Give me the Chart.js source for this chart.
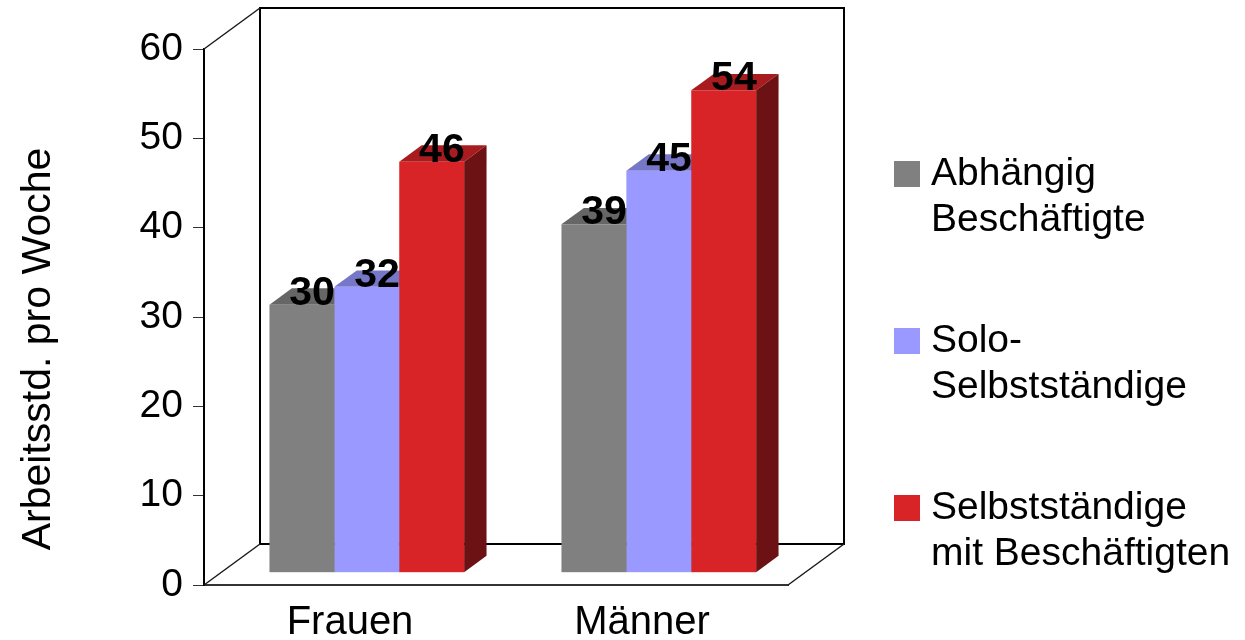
<!DOCTYPE html>
<html>
<head>
<meta charset="utf-8">
<script src="https://cdn.jsdelivr.net/npm/chart.js@4.4.1/dist/chart.umd.min.js"></script>
<style>
  html, body { margin: 0; padding: 0; background: #ffffff; }
  canvas { display: block; }
</style>
</head>
<body>
<canvas id="chart" width="1245" height="640"></canvas>
<script>
// Wochenarbeitszeit nach Erwerbsform und Geschlecht
const categories = ['Frauen', 'Männer'];
const seriesNames = [
  ['Abhängig', 'Beschäftigte'],
  ['Solo-', 'Selbstständige'],
  ['Selbstständige', 'mit Beschäftigten']
];
const abhaengigBeschaeftigte = [30, 39];
const soloSelbststaendige = [32, 45];
const selbststaendigeMitBeschaeftigten = [46, 54];
const yTickValues = [0, 10, 20, 30, 40, 50, 60];
const yAxisTitle = 'Arbeitsstd. pro Woche';

const FONT = '"Liberation Sans", Arial, Helvetica, sans-serif';

// shading of the three visible faces of each box
const shades = [
  { front: '#808080', top: '#666666', side: '#404040' },
  { front: '#9999FF', top: '#7777C8', side: '#4D4D80' },
  { front: '#D92427', top: '#A81C1F', side: '#6C1214' }
];

// depth vector of the 3-D frame (front plane -> back wall), in pixels
const DEPTH = { x: 56, y: -41 };
const FRONT_GAP = 0.3;   // share of the depth in front of the boxes
const BOX_DEPTH = 0.4;   // share of the depth taken by the boxes

function poly(ctx, pts, fill) {
  ctx.beginPath();
  ctx.moveTo(pts[0][0], pts[0][1]);
  for (let i = 1; i < pts.length; i++) ctx.lineTo(pts[i][0], pts[i][1]);
  ctx.closePath();
  ctx.fillStyle = fill;
  ctx.fill();
}

function line(ctx, x1, y1, x2, y2) {
  ctx.beginPath();
  ctx.moveTo(x1, y1);
  ctx.lineTo(x2, y2);
  ctx.stroke();
}

function barBoxes(chart) {
  const out = [];
  chart.data.datasets.forEach((ds, i) => {
    const meta = chart.getDatasetMeta(i);
    meta.data.forEach((bar, j) => {
      const p = bar.getProps(['x', 'y', 'base', 'width'], true);
      out.push({ ds: i, idx: j, value: ds.data[j], ...p });
    });
  });
  return out;
}

const frame3d = {
  id: 'frame3d',
  beforeDatasetsDraw(chart) {
    const { ctx, chartArea: a, scales: { y } } = chart;
    const y0 = y.getPixelForValue(y.min);
    const yTop = y.getPixelForValue(y.max);

    // back wall and edges of the box
    ctx.save();
    ctx.strokeStyle = '#000000';
    ctx.lineWidth = 2;
    ctx.strokeRect(a.left + DEPTH.x, yTop + DEPTH.y, a.right - a.left, y0 - yTop);
    ctx.lineWidth = 1.5;
    ctx.strokeStyle = '#1a1a1a';
    line(ctx, a.left, yTop, a.left + DEPTH.x, yTop + DEPTH.y);
    line(ctx, a.left, y0, a.left + DEPTH.x, y0 + DEPTH.y);
    line(ctx, a.right, y0, a.right + DEPTH.x, y0 + DEPTH.y);
    ctx.restore();

    // top and side faces of the boxes
    const fx = DEPTH.x * FRONT_GAP, fy = DEPTH.y * FRONT_GAP;
    const bx = DEPTH.x * BOX_DEPTH, by = DEPTH.y * BOX_DEPTH;
    ctx.save();
    barBoxes(chart).forEach(b => {
      const l = b.x - b.width / 2 + fx, r = b.x + b.width / 2 + fx;
      const t = b.y + fy, bt = b.base + fy;
      const s = shades[b.ds];
      poly(ctx, [[l, t], [r, t], [r + bx, t + by], [l + bx, t + by]], s.top);
      poly(ctx, [[r, t], [r + bx, t + by], [r + bx, bt + by], [r, bt]], s.side);
    });
    ctx.restore();

    // front faces are drawn by Chart.js, pushed into the depth of the box
    ctx.save();
    ctx.translate(fx, fy);
  },
  afterDatasetsDraw(chart) {
    const { ctx } = chart;
    ctx.restore();

    const fx = DEPTH.x * FRONT_GAP, fy = DEPTH.y * FRONT_GAP;
    const bx = DEPTH.x * BOX_DEPTH;
    ctx.save();
    ctx.fillStyle = '#000000';
    ctx.font = 'bold 41px ' + FONT;
    ctx.textAlign = 'center';
    ctx.textBaseline = 'alphabetic';
    barBoxes(chart).forEach(b => {
      ctx.fillText(String(b.value), b.x + fx + bx / 2 - 1, b.y + fy);
    });
    ctx.restore();
  },
  afterDraw(chart) {
    const { ctx } = chart;
    ctx.save();
    // value-axis title
    ctx.fillStyle = '#000000';
    ctx.font = '41px ' + FONT;
    ctx.textAlign = 'center';
    ctx.textBaseline = 'alphabetic';
    ctx.translate(50, 349);
    ctx.rotate(-Math.PI / 2);
    ctx.fillText(yAxisTitle, 0, 0);
    ctx.restore();

    // legend
    ctx.save();
    ctx.font = '39px ' + FONT;
    ctx.textAlign = 'left';
    ctx.textBaseline = 'alphabetic';
    chart.data.datasets.forEach((ds, i) => {
      const base = 185 + i * 167;
      ctx.fillStyle = ds.backgroundColor;
      ctx.fillRect(894, base - 24, 26, 26);
      ctx.fillStyle = '#000000';
      seriesNames[i].forEach((txt, k) => ctx.fillText(txt, 931, base + k * 46));
    });
    ctx.restore();
  }
};

const seriesValues = [abhaengigBeschaeftigte, soloSelbststaendige, selbststaendigeMitBeschaeftigten];

new Chart(document.getElementById('chart'), {
  type: 'bar',
  data: {
    labels: categories,
    datasets: seriesValues.map((vals, i) => ({
      label: seriesNames[i].join(' '),
      data: vals,
      backgroundColor: shades[i].front,
      borderWidth: 0,
      categoryPercentage: 2 / 3,
      barPercentage: 1.0
    }))
  },
  options: {
    responsive: false,
    animation: false,
    devicePixelRatio: 1,
    layout: { padding: { left: 0, top: 49, right: 457, bottom: 0 } },
    plugins: {
      legend: { display: false },
      tooltip: { enabled: false }
    },
    scales: {
      x: {
        grid: { display: false, drawTicks: false },
        border: { display: true, color: '#333333', width: 2 },
        ticks: {
          color: '#000000',
          font: { family: FONT, size: 40 },
          padding: 14,
          maxRotation: 0
        },
        afterFit(scale) { scale.height = 55; }
      },
      y: {
        min: 0,
        max: 60,
        afterBuildTicks(scale) { scale.ticks = yTickValues.map(v => ({ value: v })); },
        grid: { display: true, drawOnChartArea: false, drawTicks: true, tickLength: 11, color: '#333333', lineWidth: 1 },
        border: { display: true, color: '#000000', width: 2 },
        ticks: {
          color: '#000000',
          font: { family: FONT, size: 39 },
          padding: 10
        },
        afterFit(scale) { scale.width = 204; }
      }
    }
  },
  plugins: [frame3d]
});
</script>
</body>
</html>
